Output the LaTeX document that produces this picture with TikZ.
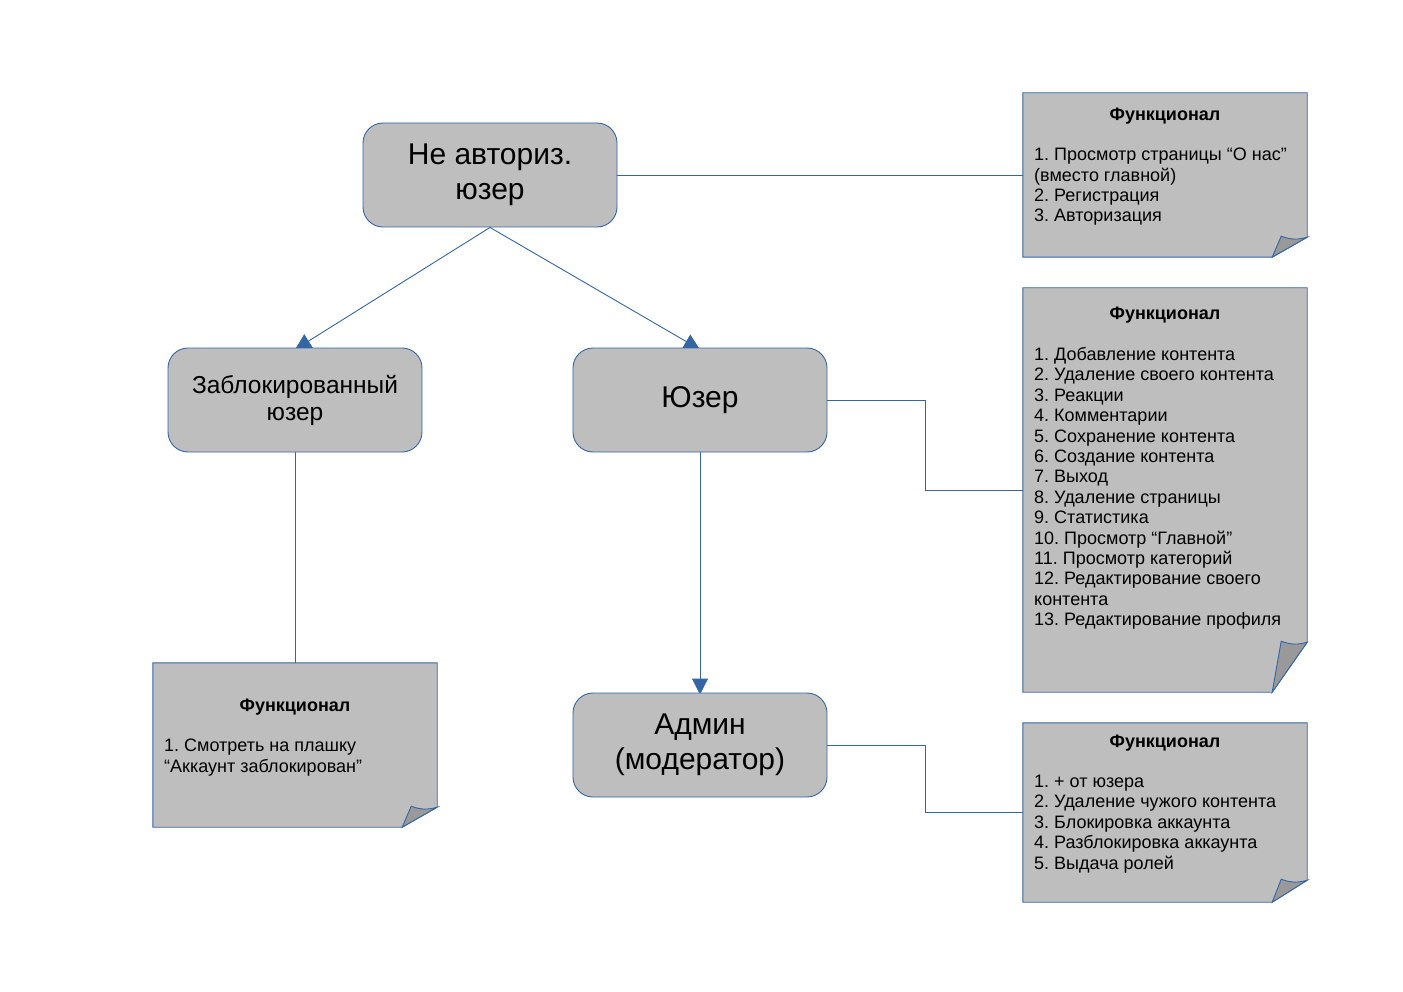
\documentclass[tikz,border=0pt]{standalone}
\usepackage{fontspec}
\setmainfont{Liberation Sans}
\usepackage{tikz}
\usetikzlibrary{arrows.meta, positioning, backgrounds}
\frenchspacing

\definecolor{boxgray}{RGB}{190,190,190}
\definecolor{folddark}{RGB}{153,153,153}
\definecolor{lineblue}{RGB}{52,101,164}

% note outline with the turned-up corner: name, fold width, fold height
\newcommand{\notefold}[3]{%
  \filldraw[notebody] (#1.north west) -- (#1.north east) -- ([yshift=#3pt]#1.south east)
    -- ([xshift=-#2pt]#1.south east) -- (#1.south west) -- cycle;
  \filldraw[notecurl] ([xshift=-#2pt]#1.south east)
    -- ([xshift={(-#2+9)*1pt}, yshift={(#3+1)*1pt}]#1.south east)
    to[bend right=18] ([yshift=#3pt]#1.south east) -- cycle;
}

\begin{document}
\begin{tikzpicture}[
            x=1pt, y=-1pt,
            box/.style={draw=lineblue, fill=boxgray, rectangle, rounded corners=20pt, minimum width=254pt, minimum height=104pt, align=center, line width=0.9pt},
            bigtext/.style={font=\fontsize{30}{35}\selectfont},
            midtext/.style={font=\fontsize{24.5}{27}\selectfont},
            note/.style={rectangle, minimum width=284pt, inner sep=0pt},
            notebody/.style={draw=lineblue, fill=boxgray, line width=0.9pt},
            notecurl/.style={draw=lineblue, fill=folddark, line width=0.9pt},
            notetitle/.style={font=\fontsize{18}{20}\selectfont\bfseries, inner sep=0pt},
            notelist/.style={font=\fontsize{18}{20.4}\selectfont, align=left, inner sep=0pt, anchor=north west},
            link/.style={draw=lineblue, line width=0.9pt},
            arrow/.style={link, -{Triangle[width=16pt, length=16pt]}}
        ]
        \useasboundingbox (0,0) rectangle (1403,992);

        % Roles
        \node[box, bigtext] (guest) at (490,175) {Не авториз.\\юзер};
        \node[box, midtext] (blocked) at (295,400) {Заблокированный\\юзер};
        \node[box, bigtext] (user) at (700,400) {Юзер};
        \node[box, bigtext] (admin) at (700,745) {Админ\\(модератор)};

        % Notes
        \node[note, minimum height=164pt] (guest-note) at (1165,175) {};
        \node[note, minimum height=404pt] (user-note) at (1165,490) {};
        \node[note, minimum height=164pt] (blocked-note) at (295,745) {};
        \node[note, minimum height=179pt] (admin-note) at (1165,812.5) {};

        \notefold{guest-note}{35}{20}
        \notefold{user-note}{35}{50}
        \notefold{blocked-note}{35}{20}
        \notefold{admin-note}{35}{22}

        % Note texts
        \node[notetitle] (guest-title) at (1165,116) {Функционал};
        \node[notelist] (guest-list) at (1034,148) {1. Просмотр страницы “О нас”\\(вместо главной)\\2. Регистрация\\3. Авторизация};

        \node[notetitle] (user-title) at (1165,315) {Функционал};
        \node[notelist] (user-list) at (1034,347) {1. Добавление контента\\2. Удаление своего контента\\3. Реакции\\4. Комментарии\\5. Сохранение контента\\6. Создание контента\\7. Выход\\8. Удаление страницы\\9. Статистика\\10. Просмотр “Главной”\\11. Просмотр категорий\\12. Редактирование своего\\контента\\13. Редактирование профиля};

        \node[notetitle] (blocked-title) at (295,707) {Функционал};
        \node[notelist] (blocked-list) at (164,739) {1. Смотреть на плашку\\“Аккаунт заблокирован”};

        \node[notetitle] (admin-title) at (1165,743) {Функционал};
        \node[notelist] (admin-list) at (1034,775) {1. + от юзера\\2. Удаление чужого контента\\3. Блокировка аккаунта\\4. Разблокировка аккаунта\\5. Выдача ролей};

        % Connectors (behind the boxes, tips tucked under the box edge)
        \begin{scope}[on background layer]
            \draw[arrow] (guest.south) -- ([yshift=-2pt]blocked.north);
            \draw[arrow] (guest.south) -- ([yshift=-2pt]user.north);
            \draw[arrow] (user.south) -- ([yshift=-2pt]admin.north);
            \draw[link] (guest.east) -- (guest-note.west);
            \draw[link] (blocked.south) -- (blocked-note.north);
            \draw[link] (user.east) -- ++(98,0) |- (user-note.west);
            \draw[link] (admin.east) -- ++(98,0) |- (admin-note.west);
        \end{scope}

    \end{tikzpicture}
\end{document}
